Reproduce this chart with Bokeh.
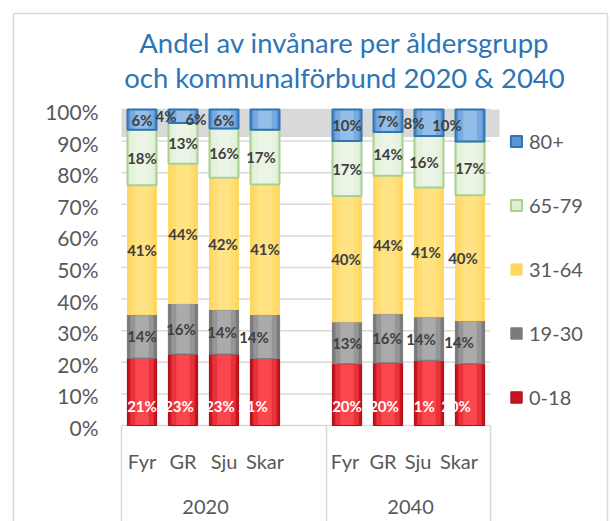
from bokeh.plotting import figure
from bokeh.models import Range1d, Legend, LegendItem, ColumnDataSource
from bokeh.embed import file_html
from bokeh.resources import INLINE
from bokeh.core.properties import value

# ---------------- data ----------------
years = ["2020", "2040"]
regions = ["Fyr", "GR", "Sju", "Skar"]
age_groups = ["0-18", "19-30", "31-64", "65-79", "80+"]
# share of inhabitants (%) - order: Fyr, GR, Sju, Skar (2020) then Fyr, GR, Sju, Skar (2040)
share_0_18 = [21.3, 22.6, 22.6, 21.2, 19.6, 19.8, 20.6, 19.6]
share_19_30 = [13.8, 16.0, 14.1, 13.9, 13.2, 15.6, 13.8, 13.6]
share_31_64 = [40.9, 44.2, 41.7, 41.2, 39.8, 43.6, 40.9, 39.7]
share_65_79 = [17.6, 12.9, 15.6, 17.3, 17.4, 13.9, 16.3, 17.0]
share_80_plus = [6.4, 4.3, 6.0, 6.4, 10.0, 7.1, 8.4, 10.1]
y_ticks = [0.0, 0.1, 0.2, 0.3, 0.4, 0.5, 0.6, 0.7, 0.8, 0.9, 1.0]
y_tick_labels = ["0%", "10%", "20%", "30%", "40%", "50%", "60%", "70%", "80%", "90%", "100%"]
title_lines = ["Andel av invånare per åldersgrupp", "och kommunalförbund 2020 & 2040"]

series = [share_0_18, share_19_30, share_31_64, share_65_79, share_80_plus]

# ---------------- layout helpers (page px -> data) ----------------
W, H = 610, 521
PX_X0, PX_PER_X = 121.0, 41.0
PX_Y0, PX_PER_Y = 425.0, 316.0


def dx(px):
    return (px - PX_X0) / PX_PER_X


def dy(py):
    return (PX_Y0 - py) / PX_PER_Y


FONT = "Lato"
GRID = "#D9D9D9"
TXT = "#595959"

p = figure(width=W, height=H, output_backend="svg", toolbar_location=None,
           x_range=Range1d(dx(0), dx(W)), y_range=Range1d(dy(H), dy(0)),
           min_border_left=0, min_border_right=0, min_border_top=0,
           min_border_bottom=0, x_axis_location=None, y_axis_location=None)
p.outline_line_color = None
p.xgrid.visible = False
p.ygrid.visible = False

# outer chart border
p.segment(x0=[dx(13), dx(13), dx(607)], x1=[dx(607), dx(13), dx(607)],
          y0=[dy(13), dy(13), dy(13)], y1=[dy(13), dy(530), dy(530)],
          line_color=GRID, line_width=1.5)

# slot positions: 4 regions, a blank slot, 4 regions
n_slots = len(regions) * len(years) + 1
xs = [gi * (len(regions) + 1) + ri + 0.5 for gi in range(len(years)) for ri in range(len(regions))]

# grey band behind the top of the bars
p.quad(left=[0], right=[dx(499)], bottom=[0.913], top=[1.0], fill_color="#D9D9D9",
       line_color=None)

# gridlines
p.segment(x0=[0] * 10, x1=[n_slots] * 10, y0=y_ticks[1:], y1=y_ticks[1:],
          line_color=GRID, line_width=1.5)

# y tick labels
p.text(x=[dx(98)] * len(y_ticks), y=y_ticks, text=y_tick_labels, y_offset=2,
       text_font=value(FONT), text_font_size="21px", text_color=TXT,
       text_align="right", text_baseline="middle")

# category box
bottom_y = dy(540)
p.segment(x0=[0], x1=[n_slots], y0=[0], y1=[0], line_color=GRID, line_width=1.5)
box_x = [0, len(regions) + 1, n_slots]
p.segment(x0=box_x, x1=box_x, y0=[0] * 3, y1=[bottom_y] * 3, line_color=GRID, line_width=1.5)

# category labels
cat_off = [0, 0, 0, 0, -2, -5, -11, -11]
p.text(x=xs, y=[dy(460)] * len(xs), text=regions * len(years), x_offset=cat_off,
       text_font=value(FONT), text_font_size="20px", text_color=TXT,
       text_align="center", text_baseline="middle")
year_x = [len(regions) / 2 + 0.05, len(regions) + 1 + len(regions) / 2 + 0.05]
p.text(x=year_x, y=[dy(506)] * 2, text=years, text_font=value(FONT),
       text_font_size="20px", text_color=TXT, text_align="center", text_baseline="middle")

# title
p.text(x=[dx(344)] * 2, y=[dy(42), dy(77)], text=title_lines, text_font=value(FONT),
       text_font_size="27.5px", text_color="#2E75B6", text_align="center",
       text_baseline="middle")

# bars
styles = [
    # base, inner1, inner2, border, border width, label color
    ("#C8161E", "#E8313A", "#F9474D", "#B0101A", 1.2, "white"),
    ("#7A7A7A", "#969696", "#AAAAAA", "#7F7F7F", 1.2, "#404040"),
    ("#FFD75E", "#FFDD73", "#FFE284", "#FFD966", 1.0, "#404040"),
    ("#DDEED4", "#E5F2DE", "#EBF5E6", "#A9D18E", 2.0, "#404040"),
    ("#5A95D2", "#77ABE0", "#93BEE9", "#2E75B6", 2.0, "#404040"),
]
label_off = [
    [0, -4, -4, -12, 0, -4, -9, -14],
    [0, -2, -2, -11, 0, -1, -8, -11],
    [0, 0, -1, 0, -1, 0, -3, -7],
    [0, 0, 0, -4, 0, 0, -5, 0],
    [0, -17, -28, -41, 0, 0, -15, -23],
]

totals = [sum(s[i] for s in series) for i in range(len(xs))]
cum = [0.0] * len(xs)
bw = 30 / PX_PER_X
legend_renderers = []
for si, vals in enumerate(series):
    base, in1, in2, border, blw, lcol = styles[si]
    bottoms = cum[:]
    tops = [cum[i] + vals[i] / totals[i] for i in range(len(xs))]
    cum = tops
    src = ColumnDataSource(dict(x=xs, bottom=bottoms, top=tops))
    r_base = p.vbar(x="x", bottom="bottom", top="top", width=bw, source=src,
                    fill_color=base, line_color=None)
    p.vbar(x="x", bottom="bottom", top="top", width=bw * 0.78, source=src,
           fill_color=in1, line_color=None)
    p.vbar(x="x", bottom="bottom", top="top", width=bw * 0.45, source=src,
           fill_color=in2, line_color=None)
    r_border = p.vbar(x="x", bottom="bottom", top="top", width=bw - 1.0 / PX_PER_X,
                      source=src, fill_color=None, line_color=border, line_width=blw)
    legend_renderers.append((age_groups[si], [r_base, r_border]))

cum = [0.0] * len(xs)
for si, vals in enumerate(series):
    lcol = styles[si][5]
    bottoms = cum[:]
    tops = [cum[i] + vals[i] / totals[i] for i in range(len(xs))]
    cum = tops
    labels = [f"{int(v + 0.5)}%" for v in vals]
    if si == 0:
        ly = bottoms
        yoff = [-20] * len(xs)
    else:
        ly = [(b + t) / 2 for b, t in zip(bottoms, tops)]
        yoff = [0] * len(xs)
    p.text(x=xs, y=ly, text=labels, x_offset=label_off[si], y_offset=yoff,
           text_font=value(FONT), text_font_size="15px", text_font_style="bold",
           text_color=lcol, text_align="center", text_baseline="middle")

legend = Legend(items=[LegendItem(label=n, renderers=r) for n, r in reversed(legend_renderers)],
                location=(509, 112), orientation="vertical",
                glyph_width=14, glyph_height=14, label_height=14, spacing=40,
                label_standoff=6, padding=0, margin=0,
                label_text_font=FONT, label_text_font_size="20px",
                label_text_color=TXT, border_line_color=None,
                background_fill_alpha=0)
p.add_layout(legend)

open("out.html", "w").write(file_html(p, INLINE))
